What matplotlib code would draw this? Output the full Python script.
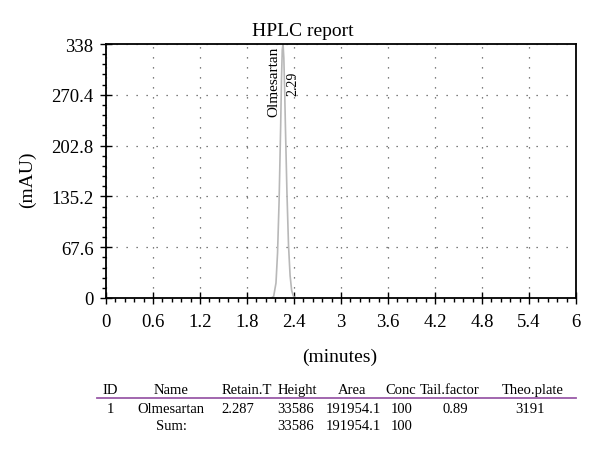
import matplotlib
matplotlib.use('Agg')
import matplotlib.pyplot as plt
from matplotlib.ticker import MultipleLocator, FixedLocator

plt.rcParams['font.family'] = ['Liberation Serif', 'DejaVu Serif']

# chromatogram trace (minutes, mAU)
time = [2.11, 2.14, 2.17, 2.19, 2.21, 2.23, 2.24, 2.25, 2.26, 2.27, 2.28, 2.29,
        2.31, 2.33, 2.35, 2.37, 2.39, 2.41]
signal = [0, 2, 20, 60, 130, 230, 290, 330, 338, 320, 280, 230,
          140, 70, 30, 10, 3, 0]

yticks = [0, 67.6, 135.2, 202.8, 270.4, 338]
ytick_labels = ['0', '67.6', '135.2', '202.8', '270.4', '338']
xticks = [0, 0.6, 1.2, 1.8, 2.4, 3, 3.6, 4.2, 4.8, 5.4, 6]
xtick_labels = ['0', '0.6', '1.2', '1.8', '2.4', '3', '3.6', '4.2', '4.8', '5.4', '6']

peak_name = 'Olmesartan'
peak_rt = '2.29'

# results table
headers = ['ID', 'Name', 'Retain.T', 'Height', 'Area', 'Conc', 'Tail.factor', 'Theo.plate']
header_x = [110, 171, 247, 297, 352, 401, 450, 533]
row1 = ['1', 'Olmesartan', '2.287', '33586', '191954.1', '100', '0.89', '3191']
row1_x = [110, 171, 238, 296, 353, 402, 455, 530]
row2 = ['', 'Sum:', '', '33586', '191954.1', '100', '', '']

W, H = 600, 456
fig = plt.figure(figsize=(6, 4.56), dpi=100)
ax = fig.add_axes([106 / W, 1 - 299 / H, 470 / W, 254 / H])

ax.plot(time, signal, color='#b8b8b8', lw=1.2)
ax.set_xlim(0, 6)
ax.set_ylim(0, 338)

ax.xaxis.set_major_locator(FixedLocator(xticks))
ax.set_xticklabels(xtick_labels)
ax.xaxis.set_minor_locator(MultipleLocator(0.12))
ax.yaxis.set_major_locator(FixedLocator(yticks))
ax.set_yticklabels(ytick_labels)
ax.yaxis.set_minor_locator(MultipleLocator(67.6 / 5))

ax.tick_params(which='major', direction='inout', length=8, width=1, labelsize=13.5)
ax.tick_params(axis='x', which='major', pad=7)
ax.tick_params(axis='y', which='major', pad=5)
ax.tick_params(which='minor', direction='out', length=3, width=1)
for s in ax.spines.values():
    s.set_linewidth(1.3)

ax.grid(True, which='major', color='#555555', linestyle=(0, (1, 7)), lw=0.9)

ax.text(2.14, 336, peak_name, rotation=90, ha='center', va='top', fontsize=11)
ax.text(2.38, 302, peak_rt, rotation=90, ha='center', va='top', fontsize=10)

fig.text(303 / W, 1 - 31 / H, 'HPLC report', ha='center', va='center', fontsize=14)
fig.text(340 / W, 1 - 357 / H, '(minutes)', ha='center', va='center', fontsize=14)
fig.text(27 / W, 1 - 180 / H, '(mAU)', ha='center', va='center', fontsize=14, rotation=90)

for txt, x in zip(headers, header_x):
    fig.text(x / W, 1 - 391 / H, txt, ha='center', va='center', fontsize=10.5)
for txt, x in zip(row1, row1_x):
    fig.text(x / W, 1 - 410 / H, txt, ha='center', va='center', fontsize=10.5)
for txt, x in zip(row2, row1_x):
    if txt:
        fig.text(x / W, 1 - 427 / H, txt, ha='center', va='center', fontsize=10.5)

fig.add_artist(plt.Line2D([97 / W, 576 / W], [1 - 399 / H, 1 - 399 / H],
                          color='#9a5aa8', lw=1.3))

fig.savefig('out.png', dpi=100)
